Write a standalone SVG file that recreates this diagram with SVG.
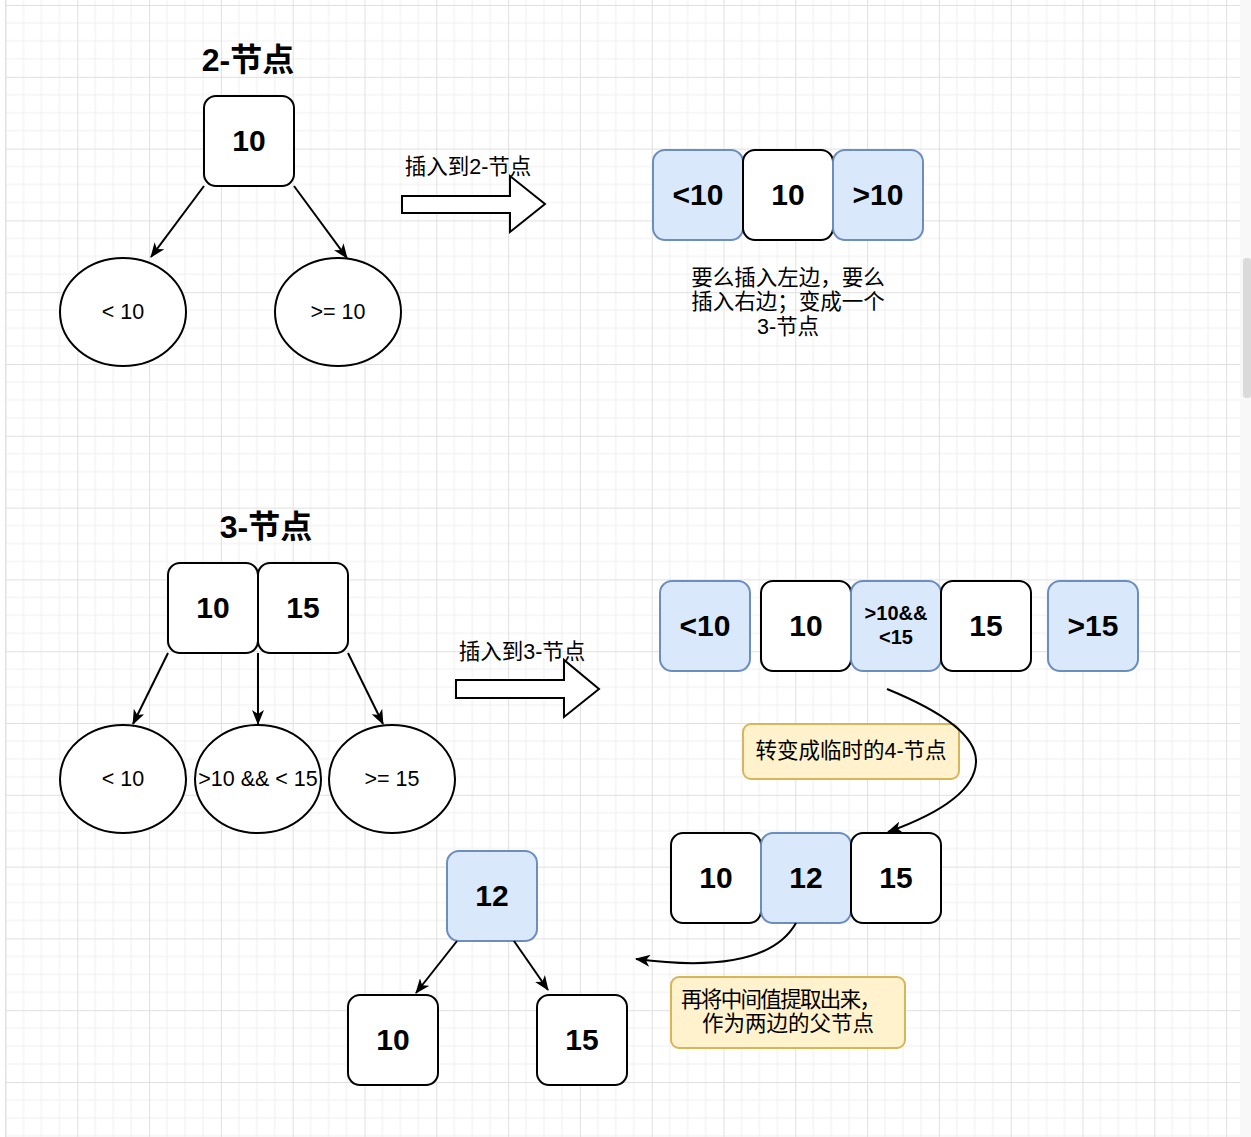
<svg xmlns="http://www.w3.org/2000/svg" width="1251" height="1137" viewBox="0 0 1251 1137">
<defs>
<pattern id="grid" patternUnits="userSpaceOnUse" x="5.5" y="5" width="71.8" height="71.8">
<path d="M17.95 0V71.8M35.9 0V71.8M53.85 0V71.8M0 17.95H71.8M0 35.9H71.8M0 53.85H71.8" stroke="#f0f0f0" stroke-width="1" fill="none"/>
<path d="M0.5 0V71.8M0 0.5H71.8" stroke="#e0e0e0" stroke-width="1" fill="none"/>
</pattern>
<marker id="ah" viewBox="0 0 15 12" refX="14" refY="6" markerWidth="15" markerHeight="12" markerUnits="userSpaceOnUse" orient="auto">
<path d="M0 0L15 6L0 12L4 6Z" fill="#000"/>
</marker>
<style>
.t{font-family:"Liberation Sans","Noto Sans CJK SC",sans-serif;fill:#000;text-anchor:middle;dominant-baseline:central}
.big{font-size:30px;font-weight:bold}
.ttl{font-size:32px;font-weight:bold}
.lbl{font-size:21.5px}
.w{fill:#fff;stroke:#000;stroke-width:2}
.b{fill:#dae8fc;stroke:#6c8ebf;stroke-width:2}
.y{fill:#fff2cc;stroke:#d6b656;stroke-width:2}
.e{fill:#fff;stroke:#000;stroke-width:2}
.c{stroke:#000;stroke-width:2;fill:none}
.ba{fill:#fff;stroke:#000;stroke-width:2}
</style>
</defs>
<rect x="0" y="0" width="1251" height="1137" fill="#fff"/>
<rect x="5.5" y="0" width="1235" height="1137" fill="url(#grid)"/>
<line x1="5.5" y1="0" x2="5.5" y2="1137" stroke="#e0e0e0"/>
<rect x="1240" y="0" width="11" height="1137" fill="#f8f8f8"/>
<rect x="1243" y="258" width="8" height="140" rx="3" fill="#dadada"/>

<g id="title2"><text class="t ttl" x="248" y="60">2-节点</text></g>
<g id="n2"><rect class="w" x="204" y="96" width="90" height="90" rx="12"/><text class="t big" x="249" y="140">10</text></g>
<g id="e2l"><ellipse class="e" cx="123" cy="312" rx="63" ry="54"/><text class="t lbl" x="123" y="312">&lt; 10</text></g>
<g id="e2r"><ellipse class="e" cx="338" cy="312" rx="63" ry="54"/><text class="t lbl" x="338" y="312">&gt;= 10</text></g>

<g id="arrow1"><path class="ba" d="M402 196H510V176L545 204L510 232V213H402Z"/><text class="t lbl" x="468" y="167">插入到2-节点</text></g>

<g id="r1a"><rect class="b" x="653" y="150" width="90" height="90" rx="12"/><text class="t big" x="698" y="194">&lt;10</text></g>
<g id="r1b"><rect class="w" x="743" y="150" width="90" height="90" rx="12"/><text class="t big" x="788" y="194">10</text></g>
<g id="r1c"><rect class="b" x="833" y="150" width="90" height="90" rx="12"/><text class="t big" x="878" y="194">&gt;10</text></g>
<g id="note1"><text class="t lbl" x="788" y="278">要么插入左边，要么</text><text class="t lbl" x="788" y="302">插入右边；变成一个</text><text class="t lbl" x="788" y="327">3-节点</text></g>

<g id="title3"><text class="t ttl" x="266" y="527">3-节点</text></g>
<g id="n3a"><rect class="w" x="168" y="563" width="90" height="90" rx="12"/><text class="t big" x="213" y="607">10</text></g>
<g id="n3b"><rect class="w" x="258" y="563" width="90" height="90" rx="12"/><text class="t big" x="303" y="607">15</text></g>
<g id="e3l"><ellipse class="e" cx="123" cy="779" rx="63" ry="54"/><text class="t lbl" x="123" y="779">&lt; 10</text></g>
<g id="e3m"><ellipse class="e" cx="258" cy="779" rx="63" ry="54"/><text class="t lbl" x="258" y="779">&gt;10 &amp;&amp; &lt; 15</text></g>
<g id="e3r"><ellipse class="e" cx="392" cy="779" rx="63" ry="54"/><text class="t lbl" x="392" y="779">&gt;= 15</text></g>

<g id="arrow2"><path class="ba" d="M456 680H564V660L599 689L564 717V698H456Z"/><text class="t lbl" x="522" y="652">插入到3-节点</text></g>

<g id="r2a"><rect class="b" x="660" y="581" width="90" height="90" rx="12"/><text class="t big" x="705" y="625">&lt;10</text></g>
<g id="r2b"><rect class="w" x="761" y="581" width="90" height="90" rx="12"/><text class="t big" x="806" y="625">10</text></g>
<g id="r2c"><rect class="b" x="851" y="581" width="90" height="90" rx="12"/><text class="t" style="font-size:20px;font-weight:bold" x="896" y="613">&gt;10&amp;&amp;</text><text class="t" style="font-size:20px;font-weight:bold" x="896" y="637">&lt;15</text></g>
<g id="r2d"><rect class="w" x="941" y="581" width="90" height="90" rx="12"/><text class="t big" x="986" y="625">15</text></g>
<g id="r2e"><rect class="b" x="1048" y="581" width="90" height="90" rx="12"/><text class="t big" x="1093" y="625">&gt;15</text></g>

<g id="note2"><rect class="y" x="743" y="724" width="216" height="55" rx="8"/><text class="t lbl" x="851" y="751">转变成临时的4-节点</text></g>

<g id="r3a"><rect class="w" x="671" y="833" width="90" height="90" rx="12"/><text class="t big" x="716" y="877">10</text></g>
<g id="r3b"><rect class="b" x="761" y="833" width="90" height="90" rx="12"/><text class="t big" x="806" y="877">12</text></g>
<g id="r3c"><rect class="w" x="851" y="833" width="90" height="90" rx="12"/><text class="t big" x="896" y="877">15</text></g>

<g id="note3"><rect class="y" x="671" y="977" width="234" height="71" rx="8"/><text class="t lbl" x="781" y="1000" textLength="200">再将中间值提取出来，</text><text class="t lbl" x="788" y="1024">作为两边的父节点</text></g>

<g id="t12"><rect class="b" x="447" y="851" width="90" height="90" rx="12"/><text class="t big" x="492" y="895">12</text></g>
<g id="t10"><rect class="w" x="348" y="995" width="90" height="90" rx="12"/><text class="t big" x="393" y="1039">10</text></g>
<g id="t15"><rect class="w" x="537" y="995" width="90" height="90" rx="12"/><text class="t big" x="582" y="1039">15</text></g>

<g id="connectors">
<path class="c" d="M204 186L151 257" marker-end="url(#ah)"/>
<path class="c" d="M294 186L347 258" marker-end="url(#ah)"/>
<path class="c" d="M168 653L133 724" marker-end="url(#ah)"/>
<path class="c" d="M258 653L258 724" marker-end="url(#ah)"/>
<path class="c" d="M348 653L383 724" marker-end="url(#ah)"/>
<path class="c" d="M887 689Q975 725 976 760Q977 800 888 832" marker-end="url(#ah)"/>
<path class="c" d="M796 923C775 960 720 970 636 959" marker-end="url(#ah)"/>
<path class="c" d="M457 941L416 993" marker-end="url(#ah)"/>
<path class="c" d="M514 941L548 990" marker-end="url(#ah)"/>
</g>
</svg>
